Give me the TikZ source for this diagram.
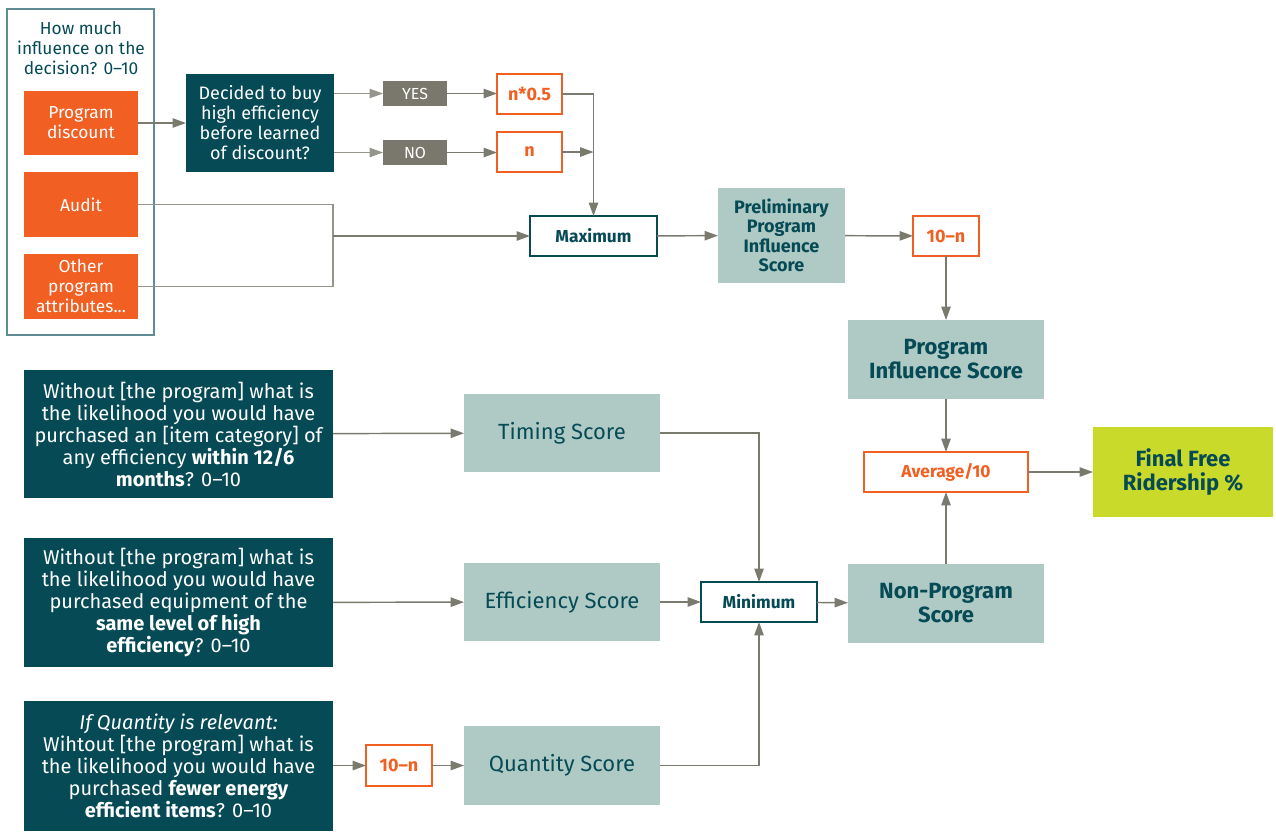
\documentclass[tikz,border=0pt]{standalone}
\usepackage{fontspec}
\setmainfont{Fira Sans}
\usetikzlibrary{arrows.meta, positioning, calc}
\definecolor{deepteal}{HTML}{054A55}
\definecolor{flame}{HTML}{F15F22}
\definecolor{sage}{HTML}{AFCAC5}
\definecolor{lime}{HTML}{C9DA2A}
\definecolor{wire}{HTML}{7B7A6E}
\definecolor{frameline}{HTML}{5E8C92}
\definecolor{tagfill}{HTML}{7A786C}
\tikzset{
    base/.style={
        rectangle, inner sep=0pt, outer sep=0pt, align=center
    },
    dims/.style 2 args={
        minimum width=#1*0.75pt, minimum height=#2*0.75pt
    },
    question/.style={
        base, fill=deepteal, text=white, font=\fontsize{15}{16.5}\selectfont
    },
    factor/.style={
        base, fill=flame, text=white, font=\fontsize{13}{15}\selectfont
    },
    tag/.style={
        base, fill=tagfill, text=white!90, font=\fontsize{12}{13}\selectfont
    },
    formula/.style={
        base, draw=flame, line width=1.2pt, fill=white, text=flame,
        font=\bfseries\fontsize{13.5}{15}\selectfont
    },
    combine/.style={
        base, draw=deepteal, line width=1.2pt, fill=white, text=deepteal,
        font=\bfseries\fontsize{13}{15}\selectfont
    },
    score/.style={
        base, fill=sage, text=deepteal, font=\fontsize{16.5}{18}\selectfont
    },
    bigscore/.style={
        score, font=\bfseries\fontsize{16.5}{18}\selectfont
    },
    result/.style={
        base, fill=lime, text=deepteal, font=\bfseries\fontsize{16.5}{18}\selectfont
    },
    arrow/.style={
        -{Triangle[length=10pt, width=7pt]}, line width=1.1pt, draw=wire
    },
    feed/.style={
        line width=0.8pt, draw=wire!80
    }
}

\begin{document}
\begin{tikzpicture}[x=0.75pt, y=-0.75pt]

    \useasboundingbox (0,0) rectangle (1276,833);

    % influence panel
    \node[base, draw=frameline, line width=1.5pt, dims={147}{326}] (panel) at (80.5,172) {};
    \node[base, text=deepteal, font=\fontsize{13}{15}\selectfont] (ask) at (81,48)
        {How much\\influence on the\\decision? 0--10};
    \node[factor, dims={114}{64}] (disc)  at (81,123)   {Program\\discount};
    \node[factor, dims={114}{65}] (audit) at (81,204.5) {Audit};
    \node[factor, dims={114}{65}] (other) at (81,286.5) {Other\\program\\attributes...};

    \node[question, font=\fontsize{13.5}{15}\selectfont, dims={148}{98}] (decided) at (260,123)
        {Decided to buy\\high efficiency\\before learned\\of discount?};
    \node[tag, dims={64}{25}] (yes) at (415,93.5)  {YES};
    \node[tag, dims={64}{25}] (no)  at (415,152.5) {NO};
    \node[formula, dims={65}{40}] (half) at (529.5,94) {n*0.5};
    \node[formula, dims={65}{40}] (nn)   at (529.5,152) {n};

    \coordinate (join) at (333,236);
    \node[combine, dims={127}{40}] (max) at (593.5,236) {Maximum};
    \node[bigscore, font=\bfseries\fontsize{13.5}{14.5}\selectfont, dims={127}{95}] (prelim) at (781.5,235.5)
        {Preliminary\\Program\\Influence\\Score};
    \node[formula, dims={66}{40}] (tenA) at (946,236) {10--n};
    \node[bigscore, dims={196}{79}] (pis) at (946,359.5) {Program\\Influence Score};
    \node[formula, font=\bfseries\fontsize{13}{15}\selectfont, dims={164}{40}] (avg) at (946,472) {Average/10};
    \node[result, dims={180}{90}] (final) at (1183,472) {Final Free\\Ridership \%};
    \node[bigscore, dims={196}{79}] (nonprog) at (946,603.5) {Non-Program\\Score};
    \node[combine, dims={116}{40}] (minimum) at (759,602) {Minimum};

    % question rows
    \node[question, dims={309}{128}] (q1) at (178.5,434)
        {Without [the program] what is\\the likelihood you would have\\purchased an [item category] of\\any efficiency \textbf{within 12/6}\\\textbf{months}? 0--10};
    \node[question, dims={309}{129}] (q2) at (178.5,602.5)
        {Without [the program] what is\\the likelihood you would have\\purchased equipment of the\\\textbf{same level of high}\\\textbf{efficiency}? 0--10};
    \node[question, dims={309}{130}] (q3) at (178.5,766)
        {\textit{If Quantity is relevant:}\\Wihtout [the program] what is\\the likelihood you would have\\purchased \textbf{fewer energy}\\\textbf{efficient items}? 0--10};
    \node[score, dims={196}{78}] (timing) at (562,433)   {Timing Score};
    \node[score, dims={196}{78}] (eff)    at (562,602)   {Efficiency Score};
    \node[score, dims={196}{79}] (qty)    at (562,765.5) {Quantity Score};
    \node[formula, dims={66}{41}] (tenB)  at (399,765.5) {10--n};

    % connectors
    \draw[arrow] (disc) -- (decided);
    \draw[arrow, draw=wire!80, line width=0.8pt] (decided.east |- yes) -- (yes.west);
    \draw[arrow, draw=wire!80, line width=0.8pt] (decided.east |- no) -- (no.west);
    \draw[arrow] (yes.east) -- (yes.east -| half.west);
    \draw[arrow] (no.east) -- (no.east -| nn.west);
    \draw[arrow] (half.east) -| (max.north);
    \draw[arrow] (nn.east) -- (nn.east -| max.north);
    \draw[feed] (audit.east) -| (join) |- (other.east);
    \draw[arrow] (join) -- (max.west);
    \draw[arrow] (max) -- (prelim);
    \draw[arrow] (prelim) -- (tenA);
    \draw[arrow] (tenA) -- (pis);
    \draw[arrow] (pis) -- (avg);
    \draw[arrow] (nonprog) -- (avg);
    \draw[arrow] (avg) -- (final);
    \draw[arrow] (q1) -- (timing);
    \draw[arrow] (timing.east) -| (minimum.north);
    \draw[arrow] (q2) -- (eff);
    \draw[arrow] (eff) -- (minimum);
    \draw[arrow] (qty.east) -| (minimum.south);
    \draw[arrow] (q3.east |- tenB) -- (tenB);
    \draw[arrow] (tenB) -- (qty);
    \draw[arrow] (minimum) -- (nonprog);

\end{tikzpicture}
\end{document}
